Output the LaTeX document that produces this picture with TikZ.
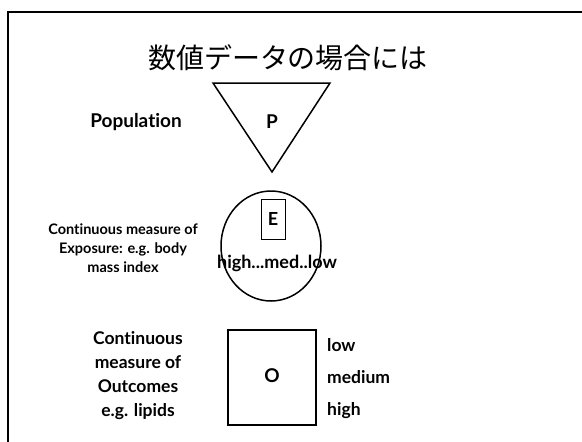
\documentclass[tikz,border=0pt]{standalone}
\usepackage{fontspec}
\setmainfont{Lato}[Ligatures=NoCommon]
\newfontfamily\cjkfont{Noto Sans CJK JP}
\usetikzlibrary{shapes.geometric}
\begin{document}
\begin{tikzpicture}[x=1pt,y=-1pt,
  lbl/.style={font=\bfseries\fontsize{19}{21}\selectfont, inner sep=0pt},
  small/.style={font=\bfseries\fontsize{14.5}{19}\selectfont, align=center, inner sep=0pt},
  side/.style={font=\bfseries\fontsize{17.5}{24}\selectfont, align=center, inner sep=0pt},
  shp/.style={draw=black, line width=1.5pt}]
\useasboundingbox (0,0) rectangle (582,442);
\fill[white] (0,0) rectangle (582,442);
\draw[line width=1.6pt] (8,442) -- (8,12) -- (582,12);
\node[font=\cjkfont\fontsize{28}{32}\selectfont, inner sep=0pt] (title) at (288,58) {数値データの場合には};
% population
\draw[shp] (213,83) -- (330,83) -- (272,172) -- cycle;
\node[lbl] (P) at (272,122) {P};
\node[lbl] (pop) at (136,122) {Population};
% exposure
\draw[shp] (271,246) ellipse [x radius=50, y radius=55];
\node[draw, line width=1pt, minimum width=24pt, minimum height=40pt, inner sep=0pt, font=\bfseries\fontsize{18}{19}\selectfont] (E) at (273,219) {E};
\node[font=\bfseries\fontsize{18}{19}\selectfont, inner sep=0pt] (hml) at (277,263) {high...med..low};
\node[small] (exptext) at (123,248) {Continuous measure of\\Exposure: e.g. body\\mass index};
% outcome
\draw[shp] (228,330) rectangle (316,425);
\node[lbl] (O) at (272,376) {O};
\node[side, anchor=west] (low) at (327,345) {low};
\node[side, anchor=west] (med) at (327,377) {medium};
\node[side, anchor=west] (high) at (327,411) {high};
\node[side] (outtext) at (138,376) {Continuous\\measure of\\Outcomes\\e.g. lipids};
\end{tikzpicture}
\end{document}
